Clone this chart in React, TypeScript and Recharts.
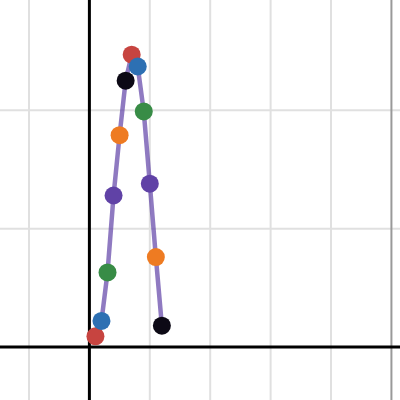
import React from 'react';
import { ComposedChart, Line, XAxis, YAxis, ReferenceLine } from 'recharts';

// point x positions and heights
const xValues = [0.1, 0.2, 0.3, 0.4, 0.5, 0.6, 0.7, 0.8, 0.9, 1.0, 1.1, 1.2];
const yValues = [0.09, 0.22, 0.63, 1.28, 1.79, 2.25, 2.47, 2.37, 1.99, 1.38, 0.76, 0.18];

const xGrid = [-1, 1, 2, 3, 4];
const yGrid = [1, 2];

// Desmos-like colour cycle
const COLORS = ['#c74440', '#2d70b3', '#388c46', '#6042a6', '#ee7b22', '#0c0915'];

const data = xValues.map((x, i) => ({ x, y: yValues[i] }));

const ColoredDot = (props: any) => {
  const { cx, cy, index } = props;
  if (cx == null || cy == null) return null;
  return <circle key={`dot-${index}`} cx={cx} cy={cy} r={9} fill={COLORS[index % COLORS.length]} />;
};

const App: React.FC = () => {
  return (
    <div style={{ position: 'fixed', left: 0, top: 0, width: 400, height: 400, background: '#fff' }}>
      <ComposedChart width={400} height={400} data={data} margin={{ top: 0, right: 0, bottom: 0, left: 0 }}>
        <XAxis dataKey="x" type="number" domain={[-1.48, 5.142]} allowDataOverflow hide />
        <YAxis type="number" domain={[-0.448, 2.932]} allowDataOverflow hide />
        {xGrid.map((v) => (
          <ReferenceLine key={`vx-${v}`} x={v} stroke="#e0e0e0" strokeWidth={2} />
        ))}
        {yGrid.map((v) => (
          <ReferenceLine key={`hy-${v}`} y={v} stroke="#e0e0e0" strokeWidth={2} />
        ))}
        <ReferenceLine x={5} stroke="#999999" strokeWidth={2} />
        <ReferenceLine x={0} stroke="#000" strokeWidth={3} />
        <ReferenceLine y={0} stroke="#000" strokeWidth={3} />
        <Line
          type="linear"
          dataKey="y"
          stroke="#6042a6"
          strokeOpacity={0.7}
          strokeWidth={4.5}
          dot={<ColoredDot />}
          activeDot={false}
          isAnimationActive={false}
        />
      </ComposedChart>
    </div>
  );
};

export default App;
